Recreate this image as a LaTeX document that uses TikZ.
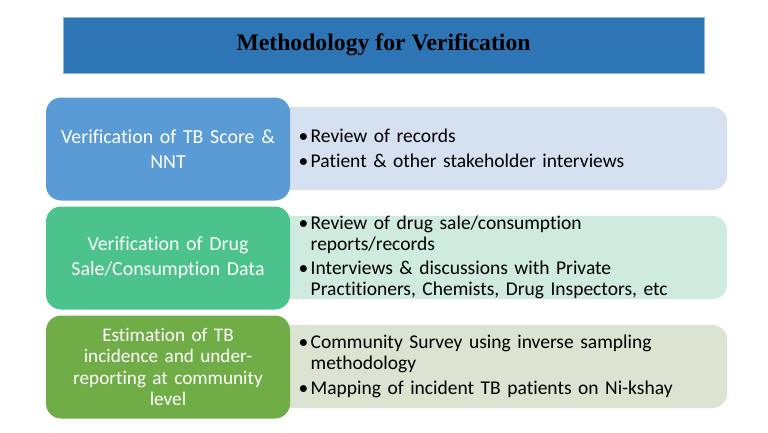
\documentclass[tikz,border=0pt]{standalone}
\usepackage{fontspec}
\setmainfont{Carlito}[RawFeature=-liga]
\newfontfamily\titlefont{Liberation Serif}
\usepackage{xcolor}
\usetikzlibrary{positioning}
\definecolor{titleblue}{HTML}{2E75B6}
\definecolor{boxblue}{HTML}{5B9BD5}
\definecolor{paleblue}{HTML}{D5E1F1}
\definecolor{boxgreen}{HTML}{4CC28C}
\definecolor{palegreen}{HTML}{CFEADF}
\definecolor{boxolive}{HTML}{70AD47}
\definecolor{paleolive}{HTML}{DAE4D1}
\newcommand{\bitem}[1]{\par\hangindent=12pt\hangafter=1\noindent\makebox[12pt][l]{\textbullet}#1\par}
\newcommand{\bgap}{\vspace{3.5pt}}

\begin{document}
\begin{tikzpicture}[x=1pt,y=-1pt,
  head/.style={draw=boxblue!70,line width=0.8pt,fill=titleblue,minimum width=641pt,minimum height=56pt,font=\titlefont\bfseries\fontsize{23.7}{28}\selectfont},
  stage/.style={rounded corners=15pt,minimum width=244pt,minimum height=103pt,text width=236pt,align=center,text=white,inner xsep=4pt,font=\fontsize{19.9}{24.5}\selectfont},
  detail/.style={rounded corners=15pt,anchor=west,minimum height=83pt,text width=400pt,inner xsep=28.5pt,inner ysep=0pt,align=left,font=\fontsize{19.5}{21}\selectfont,execute at begin node=\vspace*{-7.5pt}}
]
\useasboundingbox (0,0) rectangle (768,432);
\node[head] (title) at (383.5,45) {Methodology for Verification};

% detail boxes sit behind the stage boxes
\node[detail,fill=paleblue] (tbscoredet) at (270,148.5)
  {\bitem{Review of records}\bgap\bitem{Patient \& other stakeholder interviews}};
\node[detail,fill=palegreen] (drugsaledet) at (270,257.5)
  {\bitem{Review of drug sale/consumption\newline reports/records}\bgap\bitem{Interviews \& discussions with Private\newline Practitioners, Chemists, Drug Inspectors, etc}};
\node[detail,fill=paleolive] (incidencedet) at (270,366.5)
  {\bitem{Community Survey using inverse sampling\newline methodology}\bgap\bitem{Mapping of incident TB patients on Ni-kshay}};

\node[stage,fill=boxblue] (tbscore) at (168,149) {Verification of TB Score \&\\NNT};
\node[stage,fill=boxgreen] (drugsale) at (168,258) {Verification of Drug\\Sale/Consumption Data};
\node[stage,fill=boxolive,font=\fontsize{19.2}{21.6}\selectfont] (incidence) at (168,367) {Estimation of TB\\incidence and under-\\reporting at community\\level};
\end{tikzpicture}
\end{document}
